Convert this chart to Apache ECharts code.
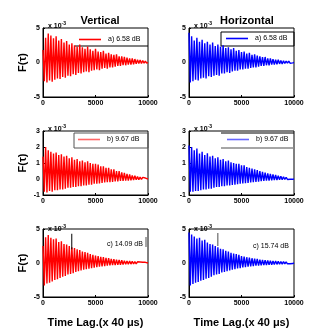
<!DOCTYPE html>
<html>
<head>
<meta charset="utf-8">
<script src="https://cdn.jsdelivr.net/npm/echarts@6/dist/echarts.min.js"></script>
<style>
  html, body { margin: 0; padding: 0; background: #fff; }
  #chart { width: 332px; height: 335px; }
</style>
</head>
<body>
<div id="chart"></div>
<script>
// lag step between successive peaks (x 40 us)
const step = 250;
const xTicks = [0, 5000, 10000];

// a) panels, y in units of 1e-3
const vertAPeaks = [1.8, 3.6, 4.2, 3.9, 3.5, 3.8, 3.2, 3.4, 2.9, 3.1, 2.6, 2.8, 2.5, 2.3, 2.6, 2.2, 2.0, 2.3, 1.9, 1.7, 2.0, 1.6, 1.5, 1.7, 1.3, 1.4, 1.2, 1.1, 1.2, 0.9, 0.9, 0.8, 0.7, 0.6, 0.6, 0.5, 0.4, 0.35, 0.3, 0.2];
const vertATroughs = [-2.7, -2.9, -2.6, -2.8, -2.5, -2.3, -2.4, -2.1, -2.2, -1.9, -2.0, -1.7, -1.8, -1.5, -1.6, -1.4, -1.3, -1.4, -1.2, -1.1, -1.0, -1.1, -0.9, -0.8, -0.9, -0.7, -0.7, -0.6, -0.5, -0.5, -0.4, -0.4, -0.3, -0.3, -0.25, -0.2, -0.15, -0.15, -0.1, -0.1];
const horAPeaks = [4.3, 3.8, 3.2, 3.6, 3.0, 3.3, 2.8, 3.0, 2.6, 2.9, 2.4, 2.6, 2.3, 2.5, 2.1, 2.2, 1.9, 2.1, 1.7, 1.8, 1.5, 1.6, 1.3, 1.4, 1.1, 1.2, 1.0, 0.9, 0.8, 0.8, 0.6, 0.6, 0.5, 0.4, 0.4, 0.3, 0.25, 0.2, 0.2, 0.1];
const horATroughs = [-2.9, -2.7, -2.5, -2.6, -2.3, -2.2, -2.3, -2.0, -2.1, -1.9, -1.8, -1.9, -1.6, -1.6, -1.4, -1.5, -1.3, -1.2, -1.2, -1.0, -1.0, -0.9, -0.9, -0.8, -0.7, -0.7, -0.6, -0.5, -0.5, -0.4, -0.4, -0.3, -0.3, -0.25, -0.2, -0.2, -0.15, -0.1, -0.1, -0.05];

// b) panels
const vertBPeaks = [1.4, 2.0, 1.8, 1.7, 1.6, 1.65, 1.5, 1.55, 1.4, 1.45, 1.3, 1.35, 1.2, 1.25, 1.1, 1.15, 1.05, 1.1, 1.0, 0.95, 0.95, 0.9, 0.8, 0.8, 0.7, 0.7, 0.6, 0.6, 0.5, 0.5, 0.42, 0.38, 0.32, 0.28, 0.22, 0.2, 0.15, 0.12, 0.1, 0.06];
const vertBTroughs = [-0.8, -0.85, -0.75, -0.8, -0.7, -0.7, -0.65, -0.65, -0.6, -0.55, -0.55, -0.5, -0.5, -0.45, -0.45, -0.4, -0.4, -0.35, -0.35, -0.3, -0.3, -0.28, -0.25, -0.22, -0.2, -0.2, -0.18, -0.15, -0.15, -0.12, -0.12, -0.1, -0.1, -0.08, -0.06, -0.05, -0.04, -0.03, -0.02, -0.02];
const horBPeaks = [2.1, 2.0, 1.8, 1.9, 1.6, 1.7, 1.5, 1.6, 1.4, 1.45, 1.3, 1.35, 1.2, 1.25, 1.1, 1.15, 1.05, 1.0, 0.95, 0.95, 0.85, 0.85, 0.75, 0.7, 0.65, 0.6, 0.55, 0.5, 0.45, 0.4, 0.35, 0.32, 0.28, 0.25, 0.2, 0.18, 0.14, 0.1, 0.08, 0.05];
const horBTroughs = [-0.8, -0.8, -0.75, -0.75, -0.7, -0.65, -0.65, -0.6, -0.6, -0.55, -0.5, -0.5, -0.45, -0.45, -0.4, -0.4, -0.38, -0.35, -0.32, -0.3, -0.28, -0.26, -0.24, -0.22, -0.2, -0.18, -0.16, -0.14, -0.12, -0.1, -0.1, -0.08, -0.07, -0.06, -0.05, -0.04, -0.03, -0.03, -0.02, -0.02];

// c) panels
const vertCPeaks = [2.5, 3.8, 4.1, 3.7, 3.5, 3.6, 3.1, 3.2, 2.8, 2.7, 2.5, 2.3, 2.2, 2.0, 1.9, 1.7, 1.6, 1.5, 1.3, 1.2, 1.1, 1.0, 0.9, 0.85, 0.75, 0.7, 0.6, 0.55, 0.5, 0.45, 0.4, 0.35, 0.3, 0.28, 0.25, 0.2, 0.18, 0.15, 0.12, 0.1];
const vertCTroughs = [-3.3, -3.0, -2.9, -2.7, -2.5, -2.4, -2.2, -2.0, -1.9, -1.7, -1.6, -1.5, -1.3, -1.2, -1.1, -1.0, -0.9, -0.85, -0.75, -0.7, -0.6, -0.55, -0.5, -0.45, -0.4, -0.35, -0.32, -0.3, -0.27, -0.25, -0.22, -0.2, -0.18, -0.16, -0.14, -0.12, -0.1, -0.1, -0.08, -0.06];
const horCPeaks = [4.5, 4.2, 3.9, 3.6, 3.7, 3.3, 3.4, 3.0, 2.8, 2.7, 2.5, 2.3, 2.1, 2.0, 1.8, 1.7, 1.5, 1.4, 1.3, 1.2, 1.0, 0.95, 0.85, 0.8, 0.7, 0.65, 0.6, 0.5, 0.45, 0.4, 0.38, 0.35, 0.3, 0.28, 0.25, 0.22, 0.2, 0.18, 0.15, 0.12];
const horCTroughs = [-3.3, -3.1, -2.9, -2.8, -2.6, -2.5, -2.3, -2.2, -2.0, -1.8, -1.7, -1.6, -1.4, -1.3, -1.2, -1.1, -1.0, -0.9, -0.8, -0.75, -0.65, -0.6, -0.55, -0.5, -0.45, -0.4, -0.38, -0.35, -0.32, -0.3, -0.27, -0.25, -0.22, -0.2, -0.18, -0.16, -0.14, -0.12, -0.1, -0.08];

// stray marks in the c) panels: [lag, from, to]
const vertCSpike = [2740, 4.3, 2.0];
const horCSpike = [2740, 4.4, 2.5];

const labels = ['a) 6.58 dB', 'a) 6.58 dB', 'b) 9.67 dB', 'b) 9.67 dB', 'c) 14.09 dB', 'c) 15.74 dB'];
const yRanges = [[-5, 5, 5], [-5, 5, 5], [-1, 3, 1], [-1, 3, 1], [-5, 5, 5], [-5, 5, 5]];

const panels = [
  [vertAPeaks, vertATroughs], [horAPeaks, horATroughs],
  [vertBPeaks, vertBTroughs], [horBPeaks, horBTroughs],
  [vertCPeaks, vertCTroughs], [horCPeaks, horCTroughs]
];

const RED = '#ff0000';
const BLUE = '#0000ff';
const FONT = 'Arial, "Liberation Sans", sans-serif';

const buildSignal = (peaks, troughs) => {
  const pts = [];
  peaks.forEach((p, i) => {
    pts.push([i * step, p]);
    pts.push([i * step + step / 2, troughs[i]]);
  });
  pts.push([10000, 0]);
  return pts;
};

const gridPos = [
  { left: 43, top: 28, width: 105, height: 69 },
  { left: 189, top: 28, width: 105, height: 69 },
  { left: 43, top: 131, width: 105, height: 64 },
  { left: 189, top: 131, width: 105, height: 64 },
  { left: 43, top: 229, width: 105, height: 68 },
  { left: 189, top: 229, width: 105, height: 68 }
];

const grid = gridPos.map(g => ({ ...g, show: true, borderColor: '#000', borderWidth: 1, backgroundColor: 'transparent' }));

const xAxis = gridPos.map((g, i) => ({
  type: 'value',
  gridIndex: i,
  min: xTicks[0],
  max: xTicks[2],
  interval: xTicks[1] - xTicks[0],
  name: i >= 4 ? 'Time Lag.(x 40 \u03bcs)' : '',
  nameLocation: 'middle',
  nameGap: 20,
  nameTextStyle: { fontFamily: FONT, fontWeight: 'bold', fontSize: 11, color: '#000' },
  axisLine: { show: true, onZero: false, lineStyle: { color: '#000', width: 1 } },
  axisTick: { show: true, inside: true, length: 2, lineStyle: { color: '#000' } },
  axisLabel: { fontFamily: FONT, fontSize: 7, fontWeight: 'bold', color: '#000', margin: 3, formatter: v => String(v) },
  splitLine: { show: false }
}));

const yAxis = gridPos.map((g, i) => ({
  type: 'value',
  gridIndex: i,
  min: yRanges[i][0],
  max: yRanges[i][1],
  interval: yRanges[i][2],
  name: i % 2 === 0 ? 'F(\u03c4)' : '',
  nameLocation: 'middle',
  nameRotate: 90,
  nameGap: 15,
  nameTextStyle: { fontFamily: FONT, fontWeight: 'bold', fontSize: 11, color: '#000' },
  axisLine: { show: true, lineStyle: { color: '#000', width: 1 } },
  axisTick: { show: true, inside: true, length: 2, lineStyle: { color: '#000' } },
  axisLabel: { fontFamily: FONT, fontSize: 7, fontWeight: 'bold', color: '#000', margin: 3 },
  splitLine: { show: false }
}));

const series = panels.map((p, i) => ({
  name: 's' + i,
  type: 'line',
  xAxisIndex: i,
  yAxisIndex: i,
  showSymbol: false,
  silent: true,
  animation: false,
  lineStyle: { color: i % 2 === 0 ? RED : BLUE, width: 1.4 },
  itemStyle: { color: i % 2 === 0 ? RED : BLUE },
  data: buildSignal(p[0], p[1])
}));

series.push({
  type: 'line', xAxisIndex: 4, yAxisIndex: 4, showSymbol: false, silent: true, animation: false,
  lineStyle: { color: '#000', width: 1 },
  data: [[vertCSpike[0], vertCSpike[1]], [vertCSpike[0], vertCSpike[2]]]
});
series.push({
  type: 'line', xAxisIndex: 5, yAxisIndex: 5, showSymbol: false, silent: true, animation: false,
  lineStyle: { color: '#888', width: 1.5 },
  data: [[horCSpike[0], horCSpike[1]], [horCSpike[0], horCSpike[2]]]
});

const legendPos = [
  { left: 79, top: 36 }, { left: 226, top: 35 },
  { left: 78, top: 136 }, { left: 227, top: 136 }
];
const legendColors = ['#ff0000', '#0000ff', '#ff6666', '#6666ff'];
const legend = legendPos.map((pos, i) => ({
  ...pos,
  data: [{ name: 's' + i, itemStyle: { color: legendColors[i] }, lineStyle: { color: legendColors[i] } }],
  selectedMode: false,
  icon: 'rect',
  itemWidth: 22,
  itemHeight: 1.6,
  itemGap: 0,
  padding: 0,
  formatter: () => labels[i],
  textStyle: { fontFamily: FONT, fontSize: 7, color: '#000', padding: [0, 0, 0, 2] }
}));

const sci = (left, top) => ({
  left, top,
  text: '{b|x 10}{s|-3}',
  textStyle: {
    rich: {
      b: { fontFamily: FONT, fontSize: 7, color: '#000' },
      s: { fontFamily: FONT, fontSize: 5, color: '#000', verticalAlign: 'top', padding: [0, 0, 5, 0] }
    }
  }
});

const title = [
  { text: 'Vertical', left: 95, top: 10, textAlign: 'center', textStyle: { fontFamily: FONT, fontWeight: 'bold', fontSize: 11, color: '#000' } },
  { text: 'Horizontal', left: 242, top: 10, textAlign: 'center', textStyle: { fontFamily: FONT, fontWeight: 'bold', fontSize: 11, color: '#000' } },
  sci(43, 16), sci(189, 16), sci(43, 119), sci(189, 119), sci(43, 219), sci(189, 219),
  { text: labels[4], left: 102, top: 236, textStyle: { fontFamily: FONT, fontSize: 7, fontWeight: 'normal', color: '#000' } },
  { text: labels[5], left: 248, top: 238, textStyle: { fontFamily: FONT, fontSize: 7, fontWeight: 'normal', color: '#000' } }
];

// leftover legend box edges
const graphic = [
  { type: 'line', shape: { x1: 75, y1: 46, x2: 148, y2: 46 }, style: { stroke: '#000', lineWidth: 1 } },
  { type: 'rect', shape: { x: 221, y: 32, width: 73, height: 14 }, style: { stroke: '#000', fill: 'none', lineWidth: 1 } },
  { type: 'rect', shape: { x: 74, y: 133, width: 74, height: 15 }, style: { stroke: '#555', fill: 'none', lineWidth: 1 } },
  { type: 'line', shape: { x1: 221, y1: 133, x2: 294, y2: 133 }, style: { stroke: '#000', lineWidth: 1 } },
  { type: 'line', shape: { x1: 221, y1: 148, x2: 294, y2: 148 }, style: { stroke: '#888', lineWidth: 1.5 } },
  { type: 'line', shape: { x1: 146, y1: 237, x2: 146, y2: 247 }, style: { stroke: '#888', lineWidth: 1.5 } }
];

const chart = echarts.init(document.getElementById('chart'), null, { renderer: 'canvas' });
chart.setOption({
  backgroundColor: '#fff',
  animation: false,
  title,
  legend,
  grid,
  xAxis,
  yAxis,
  series,
  graphic
});
</script>
</body>
</html>
